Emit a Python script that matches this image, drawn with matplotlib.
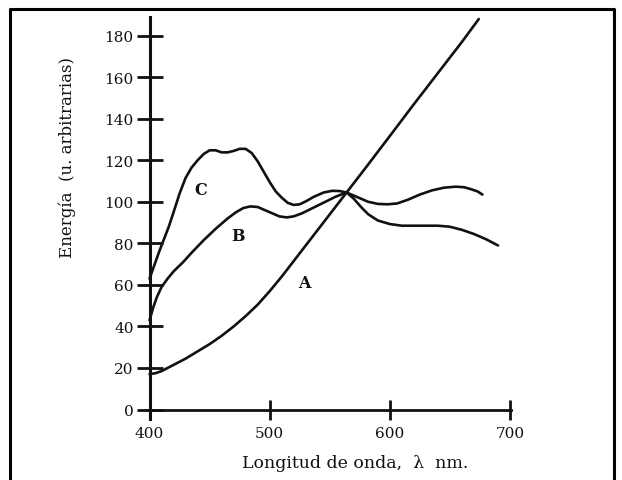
import matplotlib
matplotlib.use("Agg")
import matplotlib.pyplot as plt
from matplotlib.lines import Line2D

# wavelength (nm) / energy (arbitrary units)
a_x = [400, 405, 410, 415, 420, 430, 440, 450, 460, 470, 480, 490, 500, 510,
       520, 530, 540, 550, 560, 570, 580, 600, 620, 640, 660, 674]
a_y = [17, 17.5, 18.5, 20, 21.5, 24.5, 28, 31.5, 35.5, 40, 45, 50.5, 57, 64,
       71.5, 79, 86.5, 94, 101.5, 109, 116.5, 131.7, 147, 162, 177, 188]

b_x = [400, 403, 406, 410, 415, 420, 428, 435, 445, 455, 465, 472, 478, 484,
       490, 496, 502, 508, 514, 520, 527, 534, 541, 548, 555, 564, 570, 576,
       582, 590, 598, 606, 615, 625, 635, 645, 655, 662, 668, 673, 677]
b_y = [43, 49, 54, 59, 63, 66.5, 71, 75.5, 81.5, 87, 92, 95, 97, 97.8,
       97.5, 96, 94.5, 93, 92.5, 93, 94.5, 96.5, 98.5, 100.5, 102.5, 104.5, 103, 101.5,
       100, 99, 98.8, 99.2, 101, 103.5, 105.5, 106.8, 107.3, 107, 106, 105, 103.5]

c_x = [400, 404, 408, 412, 416, 420, 425, 430, 435, 440, 445, 450, 455, 460,
       465, 470, 475, 480, 485, 490, 495, 500, 505, 510, 515, 520, 525, 530,
       537, 545, 552, 558, 564, 570, 576, 582, 590, 600, 610, 620, 630, 640,
       650, 660, 670, 680, 690]
c_y = [63, 69.5, 76, 82, 88, 95, 104, 111.5, 116.5, 120, 123, 124.8, 124.8, 123.8,
       123.8, 124.5, 125.5, 125.5, 123.5, 119.5, 114.5, 109.5, 105, 102, 99.5, 98.5, 98.8, 100.2,
       102.5, 104.5, 105.3, 105.2, 104.5, 101.5, 97.5, 94, 91, 89.3, 88.5, 88.5, 88.5, 88.5,
       88, 86.5, 84.5, 82, 79]

curve_labels = ["A", "B", "C"]
label_x = [529, 474, 443]
label_y = [61, 84, 106]

x_ticks = [400, 500, 600, 700]
y_ticks = [0, 20, 40, 60, 80, 100, 120, 140, 160, 180]

ink = "#111111"
plt.rcParams["font.family"] = ["DejaVu Serif"]

fig = plt.figure(figsize=(6.22, 4.81), dpi=100)
ax = fig.add_axes([0.2211, 0.1033, 0.6182, 0.8853])
ax.set_xlim(390, 710)
ax.set_ylim(-10, 195)

for xs, ys in [(a_x, a_y), (b_x, b_y), (c_x, c_y)]:
    ax.plot(xs, ys, color=ink, lw=1.9, solid_capstyle="round", solid_joinstyle="round")

for t, lx, ly in zip(curve_labels, label_x, label_y):
    ax.text(lx, ly, t, ha="center", va="center", fontsize=11.5, fontweight="bold", color=ink)

# axes drawn as plain crossed lines, like the book figure
for s in ["top", "right"]:
    ax.spines[s].set_visible(False)
ax.spines["left"].set_bounds(-4.5, 189)
ax.spines["bottom"].set_bounds(399, 701)
ax.spines["left"].set_linewidth(2.2)
ax.spines["bottom"].set_linewidth(2.0)
ax.spines["left"].set_color(ink)
ax.spines["bottom"].set_color(ink)
ax.spines["left"].set_position(("data", 400))
ax.spines["bottom"].set_position(("data", 0))

ax.set_xticks(x_ticks)
ax.set_yticks(y_ticks)
ax.tick_params(axis="y", direction="inout", length=19, width=2, color=ink,
               labelsize=11, labelcolor=ink, pad=2)
ax.tick_params(axis="x", direction="inout", length=14, width=2, color=ink,
               labelsize=11, labelcolor=ink, pad=5)

ax.set_xlabel("Longitud de onda,  λ  nm.", fontsize=12.5, color=ink)
ax.xaxis.set_label_coords(0.566, -0.056)
ax.set_ylabel("Energía  (u. arbitrarias)", fontsize=12, color=ink)
ax.yaxis.set_label_coords(-0.16, 0.644)

# black frame around the scanned picture (open at the bottom)
fx = [10 / 622, 10 / 622, 614 / 622, 614 / 622]
fy = [0.0, 1 - 10 / 481, 1 - 10 / 481, 0.0]
fig.add_artist(Line2D(fx, fy, color="black", lw=2.2, transform=fig.transFigure))

fig.savefig("out.png", dpi=100)
